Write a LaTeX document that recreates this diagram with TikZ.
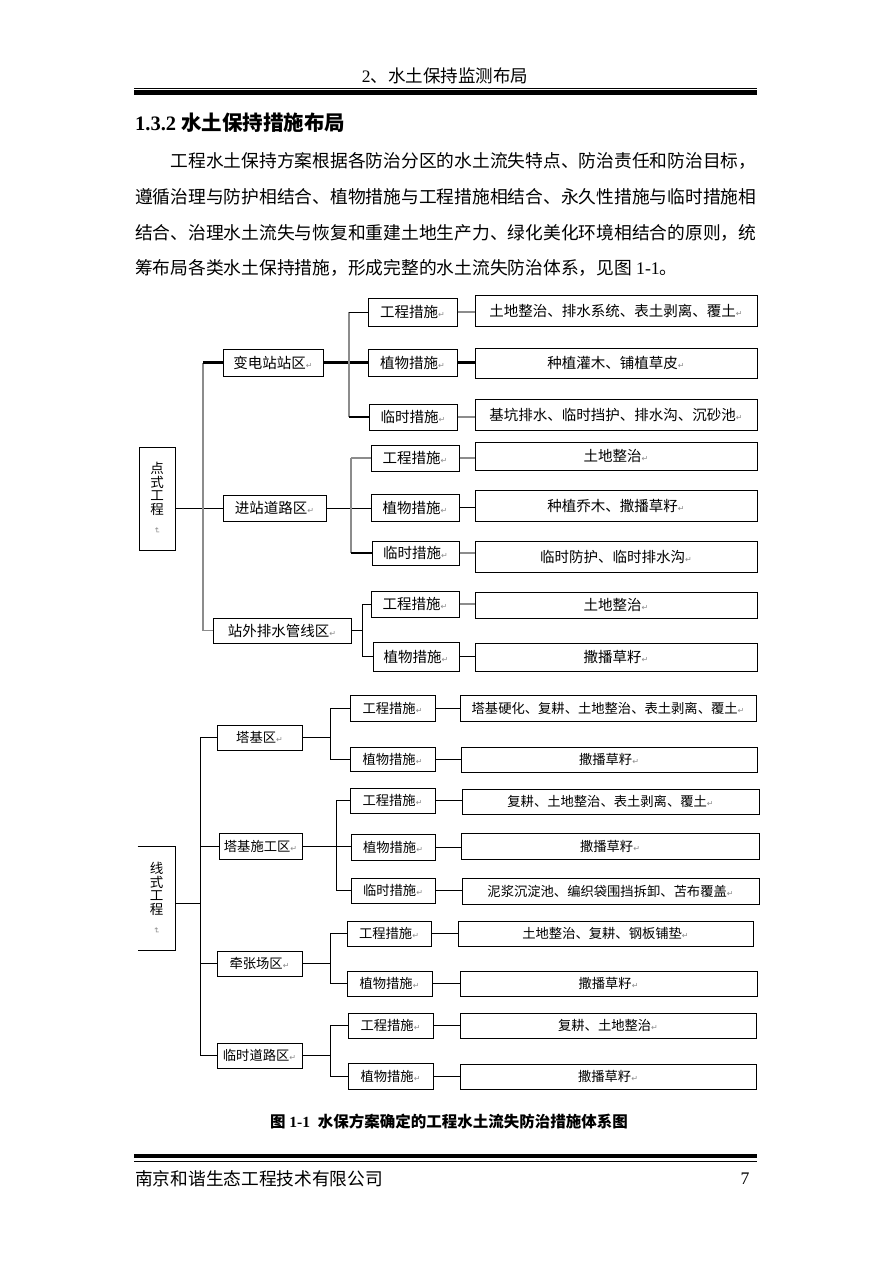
\documentclass[tikz,border=0pt]{standalone}
\usepackage{fontspec}
\setmainfont{Liberation Serif}
\newfontfamily\cjk{Noto Sans CJK SC}
\newfontfamily\symfont{DejaVu Sans}
\usetikzlibrary{positioning,calc}
\newcommand\retmk{{\symfont\fontsize{8}{8}\selectfont\textcolor{black!45}{↵}}}

\begin{document}
\begin{tikzpicture}[x=1pt, y=-1pt,
  box/.style={draw, line width=1pt, fill=white, inner sep=0pt, font=\cjk\fontsize{14.5}{16}\selectfont},
  rootbox/.style={box, align=center, font=\cjk\fontsize{13.5}{13.5}\selectfont},
  para/.style={anchor=west, inner sep=0pt, font=\cjk\fontsize{17.75}{18}\selectfont},
  lnk/.style={line width=0.9pt},
  lnkb/.style={line width=2.2pt},
  lnkg/.style={line width=1.4pt, draw=black!45}]
\fill[white] (0,0) rectangle (892,1263);
\useasboundingbox (0,0) rectangle (892,1263);
\def\bx[#1]#2(#3,#4)(#5,#6)#7{\node[#1, minimum width={#5-#3}, minimum height={#6-#4}] (#2) at ({(#3+#5)/2},{(#4+#6)/2}) {#7};}
% page head, text
\node[inner sep=0pt, font=\fontsize{17.5}{18}\selectfont] (hdr) at (445,76) {2{\cjk 、水土保持监测布局}};
\draw[line width=1pt] (134,88.3) -- (757,88.3);
\draw[line width=4.5pt] (134,92.7) -- (757,92.7);
\node[anchor=west, inner sep=0pt, font=\fontsize{20.5}{22}\selectfont\bfseries] (ttl) at (135,123) {1.3.2 {\cjk 水土保持措施布局}};
\node[para] (p1) at (170.5,160.7) {工程水土保持方案根据各防治分区的水土流失特点、防治责任和防治目标，};
\node[para] (p2) at (135,196.7) {遵循治理与防护相结合、植物措施与工程措施相结合、永久性措施与临时措施相};
\node[para] (p3) at (135,232.7) {结合、治理水土流失与恢复和重建土地生产力、绿化美化环境相结合的原则，统};
\node[para] (p4) at (135,268.3) {筹布局各类水土保持措施，形成完整的水土流失防治体系，见图 {\rmfamily 1-1}。};
% point works
\bx[rootbox]rootA(139,447)(175,550){点\\式\\工\\程\\\rotatebox{-90}{\retmk}}
\bx[box]zoneA1(223,349)(323,376){变电站站区\retmk}
\bx[box]mA1a(368,298)(457,326){工程措施\retmk}
\bx[box]mA1b(368,349)(457,376){植物措施\retmk}
\bx[box]mA1c(369,404)(457,430){临时措施\retmk}
\bx[box]dA1a(475,295)(757,326){土地整治、排水系统、表土剥离、覆土\retmk}
\bx[box]dA1b(475,348)(757,378){种植灌木、铺植草皮\retmk}
\bx[box]dA1c(475,399)(757,430){基坑排水、临时挡护、排水沟、沉砂池\retmk}
\bx[box]zoneA2(223,495)(326,521){进站道路区\retmk}
\bx[box]mA2a(371,445)(459,471){工程措施\retmk}
\bx[box]mA2b(371,494)(459,521){植物措施\retmk}
\bx[box]mA2c(372,541)(459,565){临时措施\retmk}
\bx[box]dA2a(475,442)(757,470){土地整治\retmk}
\bx[box]dA2b(475,490)(757,521){种植乔木、撒播草籽\retmk}
\bx[box]dA2c(475,541)(757,572){临时防护、临时排水沟\retmk}
\bx[box]zoneA3(213,618)(351,643){站外排水管线区\retmk}
\bx[box]mA3a(371,591)(459,617){工程措施\retmk}
\bx[box]mA3b(373,642)(459,671){植物措施\retmk}
\bx[box]dA3a(475,592)(757,618){土地整治\retmk}
\bx[box]dA3b(475,643)(757,671){撒播草籽\retmk}
\coordinate (trA) at (203,0);
\coordinate (bA1) at (349,0); \coordinate (bA2) at (351,0); \coordinate (bA3) at (362,0);
\draw[lnk] (rootA.east |- zoneA2.west) -- (zoneA2.west);
\draw[lnkg] (trA |- zoneA1.west) -- (trA |- zoneA3.west);
\draw[lnkb] (trA |- zoneA1.west) -- (zoneA1.west);
\draw[lnkg] (trA |- zoneA3.west) -- (zoneA3.west);
\draw[lnkb] (zoneA1.east) -- (zoneA1.east -| mA1b.west);
\draw[lnkg] (bA1 |- mA1a.west) -- (bA1 |- mA1c.west);
\draw[lnk] (bA1 |- mA1a.west) -- (mA1a.west);
\draw[lnkb] (bA1 |- mA1c.west) -- (mA1c.west);
\draw[lnkg] (mA1a.east) -- (mA1a.east -| dA1a.west);
\draw[lnkb] (mA1b.east) -- (mA1b.east -| dA1b.west);
\draw[lnkg] (mA1c.east) -- (mA1c.east -| dA1c.west);
\draw[lnk] (zoneA2.east) -- (zoneA2.east -| mA2b.west);
\draw[lnkg] (bA2 |- mA2a.west) -- (bA2 |- mA2c.west) (bA2 |- mA2a.west) -- (mA2a.west);
\draw[lnkb] (bA2 |- mA2c.west) -- (mA2c.west);
\draw[lnkg, line width=2.4pt] (mA2a.east) -- (mA2a.east -| dA2a.west);
\draw[lnk] (mA2b.east) -- (mA2b.east -| dA2b.west);
\draw[lnkg] (mA2c.east) -- (mA2c.east -| dA2c.west);
\draw[lnk] (zoneA3.east) -- (zoneA3.east -| bA3);
\draw[lnk] (mA3a.west) -- (bA3 |- mA3a.west) -- (bA3 |- mA3b.west) -- (mA3b.west);
\draw[lnkg, line width=2pt] (mA3a.east) -- (mA3a.east -| dA3a.west);
\draw[lnk] (mA3b.east) -- (mA3b.east -| dA3b.west);
% line works
\begin{scope}[box/.append style={font=\cjk\fontsize{13.3}{15}\selectfont}]
\bx[rootbox, draw=none]rootB(138,847)(175,950){线\\式\\工\\程\\\rotatebox{-90}{\retmk}}
\draw[line width=1pt] (rootB.north west) -- (rootB.north east) -- (rootB.south east) -- (rootB.south west);
\bx[box]zoneB1(217,725)(302,750){塔基区\retmk}
\bx[box]mB1a(350,695)(435,721){工程措施\retmk}
\bx[box]mB1b(350,747)(435,771){植物措施\retmk}
\bx[box]dB1a(460,695)(756,721){塔基硬化、复耕、土地整治、表土剥离、覆土\retmk}
\bx[box]dB1b(461,747)(757,772){撒播草籽\retmk}
\bx[box]zoneB2(219,833)(302,859){塔基施工区\retmk}
\bx[box]mB2a(350,788)(435,813){工程措施\retmk}
\bx[box]mB2b(351,834)(435,860){植物措施\retmk}
\bx[box]mB2c(351,878)(435,903){临时措施\retmk}
\bx[box]dB2a(462,789)(759,814){复耕、土地整治、表土剥离、覆土\retmk}
\bx[box]dB2b(461,833)(759,859){撒播草籽\retmk}
\bx[box]dB2c(462,878)(759,904){泥浆沉淀池、编织袋围挡拆卸、苫布覆盖\retmk}
\bx[box]zoneB3(217,951)(302,976){牵张场区\retmk}
\bx[box]mB3a(347,921)(431,946){工程措施\retmk}
\bx[box]mB3b(347,971)(432,996){植物措施\retmk}
\bx[box]dB3a(458,921)(753,946){土地整治、复耕、钢板铺垫\retmk}
\bx[box]dB3b(460,971)(757,996){撒播草籽\retmk}
\bx[box]zoneB4(217,1043)(302,1068){临时道路区\retmk}
\bx[box]mB4a(348,1013)(433,1038){工程措施\retmk}
\bx[box]mB4b(348,1063)(433,1089){植物措施\retmk}
\bx[box]dB4a(460,1013)(756,1038){复耕、土地整治\retmk}
\bx[box]dB4b(460,1064)(756,1089){撒播草籽\retmk}
\end{scope}
\coordinate (trB) at (200,0);
\coordinate (jB) at (200,903);
\draw[lnk] (rootB.east |- jB) -- (jB);
\draw[lnk] (trB |- zoneB1.west) -- (trB |- zoneB4.west);
\foreach \z in {zoneB1,zoneB2,zoneB3,zoneB4} \draw[lnk] (trB |- \z.west) -- (\z.west);
\foreach \z/\bb/\first/\last in {zoneB1/330/mB1a/mB1b, zoneB2/336/mB2a/mB2c, zoneB3/330/mB3a/mB3b, zoneB4/330/mB4a/mB4b} {
  \draw[lnk] (\z.east) -- (\bb,0 |- \z.east);
  \draw[lnk] (\first.west) -- (\bb,0 |- \first.west) -- (\bb,0 |- \last.west) -- (\last.west);
}
\draw[lnk] (zoneB2.east) -- (zoneB2.east -| mB2b.west);
\foreach \m/\d in {mB1a/dB1a, mB1b/dB1b, mB2a/dB2a, mB2b/dB2b, mB2c/dB2c, mB3a/dB3a, mB3b/dB3b, mB4a/dB4a, mB4b/dB4b}
  \draw[lnk] (\m.east) -- (\m.east -| \d.west);
% caption, page foot
\node[inner sep=0pt, font=\fontsize{15.5}{16}\selectfont\bfseries] (cap) at (449,1122) {{\cjk 图} 1-1\hspace{0.5em}{\cjk 水保方案确定的工程水土流失防治措施体系图}};
\draw[line width=4pt] (134,1156.3) -- (757,1156.3);
\draw[line width=1.2pt] (134,1161.2) -- (757,1161.2);
\node[anchor=west, inner sep=0pt, font=\cjk\fontsize{17.7}{18}\selectfont] (ftr) at (135,1179) {南京和谐生态工程技术有限公司};
\node[inner sep=0pt, font=\fontsize{17.7}{18}\selectfont] (pg) at (745,1179) {7};
\end{tikzpicture}
\end{document}
